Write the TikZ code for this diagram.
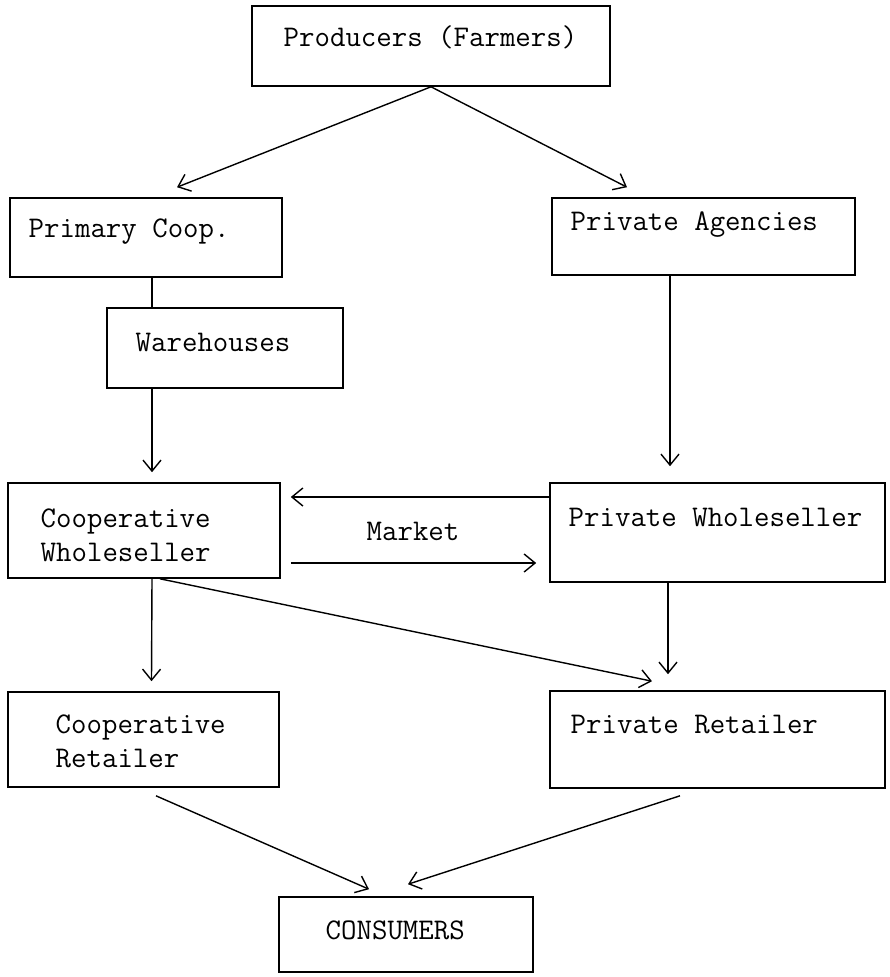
\documentclass[tikz,border=0pt]{standalone}
\usetikzlibrary{positioning, arrows.meta}
\newcommand{\typefont}{\fontsize{30}{34}\selectfont\ttfamily}

\begin{document}
\begin{tikzpicture}[
        x = 1pt, y = -1pt,
        -{Straight Barb[length = 11pt, width = 18pt]},
        line width = 1.4pt,
        every node/.style = {font = \typefont},
        box/.style = {rectangle, draw, line width = 1.6pt, inner sep = 0pt},
        txt/.style = {anchor = west, inner sep = 0pt, align = left}]

      \useasboundingbox (0,0) rectangle (889,977);

      %producers
      \node[box, minimum width = 358pt, minimum height = 80pt] (Producers) at (431,46) {};
      \node[txt] (ProducersTxt) at (283,37) {Producers (Farmers)};

      %cooperative side
      \node[box, minimum width = 272pt, minimum height = 79pt] (PrimaryCoop) at (146,237.5) {};
      \node[txt] (PrimaryCoopTxt) at (28,232) {Primary Coop.};
      \node[box, minimum width = 236pt, minimum height = 80pt] (Warehouses) at (225,348) {};
      \node[txt] (WarehousesTxt) at (135,342) {Warehouses};
      \node[box, minimum width = 272pt, minimum height = 95pt] (CoopWhole) at (144,530.5) {};
      \node[txt] (CoopWholeTxt) at (40,535) {Cooperative\\Wholeseller};
      \node[box, minimum width = 271pt, minimum height = 95pt] (CoopRetail) at (143.5,739.5) {};
      \node[txt] (CoopRetailTxt) at (55,741) {Cooperative\\Retailer};

      %private side
      \node[box, minimum width = 303pt, minimum height = 77pt] (PrivAgencies) at (703.5,236.5) {};
      \node[txt] (PrivAgenciesTxt) at (570,225) {Private Agencies};
      \node[box, minimum width = 335pt, minimum height = 99pt] (PrivWhole) at (717.5,532.5) {};
      \node[txt] (PrivWholeTxt) at (568,517) {Private Wholeseller};
      \node[box, minimum width = 335pt, minimum height = 97pt] (PrivRetail) at (717.5,739.5) {};
      \node[txt] (PrivRetailTxt) at (570,725) {Private Retailer};

      %consumers
      \node[box, minimum width = 254pt, minimum height = 75pt] (Consumers) at (406,934.5) {};
      \node[txt] (ConsumersTxt) at (325,930) {CONSUMERS};

      %market
      \node[inner sep = 0pt] (Market) at (413,531) {Market};

      \begin{scope}[-]
      %plain link
        \path
        ([xshift = 6pt]PrimaryCoop.south) edge ([xshift = 6pt]PrimaryCoop.south |- Warehouses.north)
        ;
      \end{scope}

      \begin{scope}
      %flows
        \path
        (Producers.south) edge ([shift = {(31pt,10pt)}]PrimaryCoop.north)
        (Producers.south) edge ([shift = {(-76.5pt,10pt)}]PrivAgencies.north)
        ([xshift = 8pt]CoopWhole.north |- Warehouses.south) edge ([shift = {(8pt,10pt)}]CoopWhole.north)
        ([xshift = -47.5pt]PrivWhole.north |- PrivAgencies.south) edge ([shift = {(-47.5pt,16pt)}]PrivWhole.north)
        ([yshift = 35.5pt]PrivWhole.west) edge ([shift = {(10pt,33.5pt)}]CoopWhole.east)
        ([shift = {(10pt,-32.5pt)}]CoopWhole.east) edge ([shift = {(-13pt,-30.5pt)}]PrivWhole.west)
        ([xshift = 8pt]CoopWhole.south) edge ([shift = {(8pt,10pt)}]CoopRetail.north)
        ([xshift = 16pt]CoopWhole.south) edge ([shift = {(-65.5pt,9pt)}]PrivRetail.north)
        ([xshift = -49.5pt]PrivWhole.south) edge ([shift = {(-49.5pt,16pt)}]PrivRetail.north)
        ([shift = {(12.5pt,-8pt)}]CoopRetail.south) edge ([shift = {(-37pt,7pt)}]Consumers.north)
        ([shift = {(-37.5pt,-7pt)}]PrivRetail.south) edge ([shift = {(2pt,12pt)}]Consumers.north)
        ;
      \end{scope}
    \end{tikzpicture}
\end{document}
